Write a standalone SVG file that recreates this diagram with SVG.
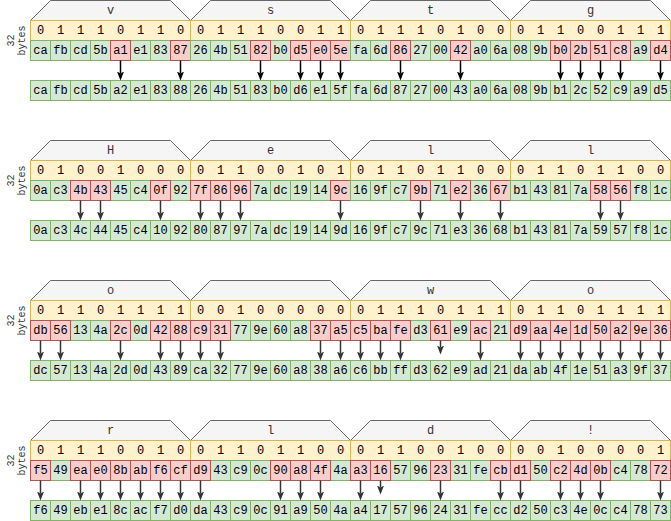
<svg xmlns="http://www.w3.org/2000/svg" width="671" height="521" viewBox="0 0 671 521">
<defs>
<style>
.hd{fill:#f5f5f5;stroke:#666666}
.bt{fill:#fff2cc;stroke:#d6b656}
.gr{fill:#d5e8d4;stroke:#82b366}
.dv{fill:none;stroke:#82b366}
.rd{fill:#f8cecc;stroke:#b85450}
text{font-family:"Liberation Mono","DejaVu Sans Mono",monospace;font-size:12px;text-anchor:middle;dominant-baseline:central;fill:#000000}
.ht{fill:#333333}
.lb{font-size:10px;fill:#333333}
.ar{stroke:#333333;stroke-width:1.5;fill:none;marker-end:url(#ah)}
.ar0{stroke:#000000;stroke-width:1.5;fill:none;marker-end:url(#ah0)}
</style>
<marker id="ah" markerUnits="userSpaceOnUse" markerWidth="10" markerHeight="9" refX="2" refY="4" orient="auto"><path d="M0,0.5 L9,4 L0,7.5 L2,4 Z" fill="#333333"/></marker>
<marker id="ah0" markerUnits="userSpaceOnUse" markerWidth="10" markerHeight="9" refX="2" refY="4" orient="auto"><path d="M0,0.5 L9,4 L0,7.5 L2,4 Z" fill="#000000"/></marker>
<path id="dv" d="M20 0v20M40 0v20M60 0v20M80 0v20M100 0v20M120 0v20M140 0v20"/>
<path id="dvo" d="M20 0v20M40 0v20M60 0v20M80 0v20M100 0v20M120 0v20M140 0v20M160 0v20M180 0v20M200 0v20M220 0v20M240 0v20M260 0v20M280 0v20M300 0v20M320 0v20M340 0v20M360 0v20M380 0v20M400 0v20M420 0v20M440 0v20M460 0v20M480 0v20M500 0v20M520 0v20M540 0v20M560 0v20M580 0v20M600 0v20M620 0v20"/>
</defs>
<g transform="translate(0.5,0.5)">

<!-- ROW 1 -->
<g id="row1" transform="translate(0,0)">
<text class="lb" transform="translate(10.5,40) rotate(-90)">32</text>
<text class="lb" transform="translate(22,40) rotate(-90)">bytes</text>
<g id="r1-v">
<polygon class="hd" points="30,20 50,0 170,0 190,20"/>
<text class="ht" x="110" y="10">v</text>
<rect class="bt" x="30" y="20" width="160" height="20"/>
<text x="40 60 80 100 120 140 160 180" y="30">01110110</text>
<rect class="gr" x="30" y="40" width="160" height="20"/>
<use href="#dv" x="30" y="40" class="dv"/>
<rect class="rd" x="110" y="40" width="20" height="20"/>
<rect class="rd" x="170" y="40" width="20" height="20"/>
<text y="50"><tspan x="40">ca</tspan><tspan x="60">fb</tspan><tspan x="80">cd</tspan><tspan x="100">5b</tspan><tspan x="120">a1</tspan><tspan x="140">e1</tspan><tspan x="160">83</tspan><tspan x="180">87</tspan></text>
</g>
<g id="r1-s">
<polygon class="hd" points="190,20 210,0 330,0 350,20"/>
<text class="ht" x="270" y="10">s</text>
<rect class="bt" x="190" y="20" width="160" height="20"/>
<text x="200 220 240 260 280 300 320 340" y="30">01110011</text>
<rect class="gr" x="190" y="40" width="160" height="20"/>
<use href="#dv" x="190" y="40" class="dv"/>
<rect class="rd" x="250" y="40" width="20" height="20"/>
<rect class="rd" x="290" y="40" width="20" height="20"/>
<rect class="rd" x="310" y="40" width="20" height="20"/>
<rect class="rd" x="330" y="40" width="20" height="20"/>
<text y="50"><tspan x="200">26</tspan><tspan x="220">4b</tspan><tspan x="240">51</tspan><tspan x="260">82</tspan><tspan x="280">b0</tspan><tspan x="300">d5</tspan><tspan x="320">e0</tspan><tspan x="340">5e</tspan></text>
</g>
<g id="r1-t">
<polygon class="hd" points="350,20 370,0 490,0 510,20"/>
<text class="ht" x="430" y="10">t</text>
<rect class="bt" x="350" y="20" width="160" height="20"/>
<text x="360 380 400 420 440 460 480 500" y="30">01110100</text>
<rect class="gr" x="350" y="40" width="160" height="20"/>
<use href="#dv" x="350" y="40" class="dv"/>
<rect class="rd" x="390" y="40" width="20" height="20"/>
<rect class="rd" x="450" y="40" width="20" height="20"/>
<text y="50"><tspan x="360">fa</tspan><tspan x="380">6d</tspan><tspan x="400">86</tspan><tspan x="420">27</tspan><tspan x="440">00</tspan><tspan x="460">42</tspan><tspan x="480">a0</tspan><tspan x="500">6a</tspan></text>
</g>
<g id="r1-g">
<polygon class="hd" points="510,20 530,0 650,0 670,20"/>
<text class="ht" x="590" y="10">g</text>
<rect class="bt" x="510" y="20" width="160" height="20"/>
<text x="520 540 560 580 600 620 640 660" y="30">01100111</text>
<rect class="gr" x="510" y="40" width="160" height="20"/>
<use href="#dv" x="510" y="40" class="dv"/>
<rect class="rd" x="550" y="40" width="20" height="20"/>
<rect class="rd" x="570" y="40" width="20" height="20"/>
<rect class="rd" x="590" y="40" width="20" height="20"/>
<rect class="rd" x="610" y="40" width="20" height="20"/>
<rect class="rd" x="650" y="40" width="20" height="20"/>
<text y="50"><tspan x="520">08</tspan><tspan x="540">9b</tspan><tspan x="560">b0</tspan><tspan x="580">2b</tspan><tspan x="600">51</tspan><tspan x="620">c8</tspan><tspan x="640">a9</tspan><tspan x="660">d4</tspan></text>
</g>
<g id="r1-out">
<rect class="gr" x="30" y="80" width="640" height="20"/>
<use href="#dvo" x="30" y="80" class="dv"/>
<text y="90"><tspan x="40">ca</tspan><tspan x="60">fb</tspan><tspan x="80">cd</tspan><tspan x="100">5b</tspan><tspan x="120">a2</tspan><tspan x="140">e1</tspan><tspan x="160">83</tspan><tspan x="180">88</tspan><tspan x="200">26</tspan><tspan x="220">4b</tspan><tspan x="240">51</tspan><tspan x="260">83</tspan><tspan x="280">b0</tspan><tspan x="300">d6</tspan><tspan x="320">e1</tspan><tspan x="340">5f</tspan><tspan x="360">fa</tspan><tspan x="380">6d</tspan><tspan x="400">87</tspan><tspan x="420">27</tspan><tspan x="440">00</tspan><tspan x="460">43</tspan><tspan x="480">a0</tspan><tspan x="500">6a</tspan><tspan x="520">08</tspan><tspan x="540">9b</tspan><tspan x="560">b1</tspan><tspan x="580">2c</tspan><tspan x="600">52</tspan><tspan x="620">c9</tspan><tspan x="640">a9</tspan><tspan x="660">d5</tspan></text>
</g>
</g>

<!-- ROW 2 -->
<g id="row2" transform="translate(0,140)">
<text class="lb" transform="translate(10.5,40) rotate(-90)">32</text>
<text class="lb" transform="translate(22,40) rotate(-90)">bytes</text>
<g id="r2-H">
<polygon class="hd" points="30,20 50,0 170,0 190,20"/>
<text class="ht" x="110" y="10">H</text>
<rect class="bt" x="30" y="20" width="160" height="20"/>
<text x="40 60 80 100 120 140 160 180" y="30">01001000</text>
<rect class="gr" x="30" y="40" width="160" height="20"/>
<use href="#dv" x="30" y="40" class="dv"/>
<rect class="rd" x="70" y="40" width="20" height="20"/>
<rect class="rd" x="90" y="40" width="20" height="20"/>
<rect class="rd" x="150" y="40" width="20" height="20"/>
<text y="50"><tspan x="40">0a</tspan><tspan x="60">c3</tspan><tspan x="80">4b</tspan><tspan x="100">43</tspan><tspan x="120">45</tspan><tspan x="140">c4</tspan><tspan x="160">0f</tspan><tspan x="180">92</tspan></text>
</g>
<g id="r2-e">
<polygon class="hd" points="190,20 210,0 330,0 350,20"/>
<text class="ht" x="270" y="10">e</text>
<rect class="bt" x="190" y="20" width="160" height="20"/>
<text x="200 220 240 260 280 300 320 340" y="30">01100101</text>
<rect class="gr" x="190" y="40" width="160" height="20"/>
<use href="#dv" x="190" y="40" class="dv"/>
<rect class="rd" x="190" y="40" width="20" height="20"/>
<rect class="rd" x="210" y="40" width="20" height="20"/>
<rect class="rd" x="230" y="40" width="20" height="20"/>
<rect class="rd" x="330" y="40" width="20" height="20"/>
<text y="50"><tspan x="200">7f</tspan><tspan x="220">86</tspan><tspan x="240">96</tspan><tspan x="260">7a</tspan><tspan x="280">dc</tspan><tspan x="300">19</tspan><tspan x="320">14</tspan><tspan x="340">9c</tspan></text>
</g>
<g id="r2-l1">
<polygon class="hd" points="350,20 370,0 490,0 510,20"/>
<text class="ht" x="430" y="10">l</text>
<rect class="bt" x="350" y="20" width="160" height="20"/>
<text x="360 380 400 420 440 460 480 500" y="30">01101100</text>
<rect class="gr" x="350" y="40" width="160" height="20"/>
<use href="#dv" x="350" y="40" class="dv"/>
<rect class="rd" x="410" y="40" width="20" height="20"/>
<rect class="rd" x="450" y="40" width="20" height="20"/>
<rect class="rd" x="490" y="40" width="20" height="20"/>
<text y="50"><tspan x="360">16</tspan><tspan x="380">9f</tspan><tspan x="400">c7</tspan><tspan x="420">9b</tspan><tspan x="440">71</tspan><tspan x="460">e2</tspan><tspan x="480">36</tspan><tspan x="500">67</tspan></text>
</g>
<g id="r2-l2">
<polygon class="hd" points="510,20 530,0 650,0 670,20"/>
<text class="ht" x="590" y="10">l</text>
<rect class="bt" x="510" y="20" width="160" height="20"/>
<text x="520 540 560 580 600 620 640 660" y="30">01101100</text>
<rect class="gr" x="510" y="40" width="160" height="20"/>
<use href="#dv" x="510" y="40" class="dv"/>
<rect class="rd" x="590" y="40" width="20" height="20"/>
<rect class="rd" x="610" y="40" width="20" height="20"/>
<text y="50"><tspan x="520">b1</tspan><tspan x="540">43</tspan><tspan x="560">81</tspan><tspan x="580">7a</tspan><tspan x="600">58</tspan><tspan x="620">56</tspan><tspan x="640">f8</tspan><tspan x="660">1c</tspan></text>
</g>
<g id="r2-out">
<rect class="gr" x="30" y="80" width="640" height="20"/>
<use href="#dvo" x="30" y="80" class="dv"/>
<text y="90"><tspan x="40">0a</tspan><tspan x="60">c3</tspan><tspan x="80">4c</tspan><tspan x="100">44</tspan><tspan x="120">45</tspan><tspan x="140">c4</tspan><tspan x="160">10</tspan><tspan x="180">92</tspan><tspan x="200">80</tspan><tspan x="220">87</tspan><tspan x="240">97</tspan><tspan x="260">7a</tspan><tspan x="280">dc</tspan><tspan x="300">19</tspan><tspan x="320">14</tspan><tspan x="340">9d</tspan><tspan x="360">16</tspan><tspan x="380">9f</tspan><tspan x="400">c7</tspan><tspan x="420">9c</tspan><tspan x="440">71</tspan><tspan x="460">e3</tspan><tspan x="480">36</tspan><tspan x="500">68</tspan><tspan x="520">b1</tspan><tspan x="540">43</tspan><tspan x="560">81</tspan><tspan x="580">7a</tspan><tspan x="600">59</tspan><tspan x="620">57</tspan><tspan x="640">f8</tspan><tspan x="660">1c</tspan></text>
</g>
</g>

<!-- ROW 3 -->
<g id="row3" transform="translate(0,280)">
<text class="lb" transform="translate(10.5,40) rotate(-90)">32</text>
<text class="lb" transform="translate(22,40) rotate(-90)">bytes</text>
<g id="r3-o1">
<polygon class="hd" points="30,20 50,0 170,0 190,20"/>
<text class="ht" x="110" y="10">o</text>
<rect class="bt" x="30" y="20" width="160" height="20"/>
<text x="40 60 80 100 120 140 160 180" y="30">01101111</text>
<rect class="gr" x="30" y="40" width="160" height="20"/>
<use href="#dv" x="30" y="40" class="dv"/>
<rect class="rd" x="30" y="40" width="20" height="20"/>
<rect class="rd" x="50" y="40" width="20" height="20"/>
<rect class="rd" x="110" y="40" width="20" height="20"/>
<rect class="rd" x="150" y="40" width="20" height="20"/>
<rect class="rd" x="170" y="40" width="20" height="20"/>
<text y="50"><tspan x="40">db</tspan><tspan x="60">56</tspan><tspan x="80">13</tspan><tspan x="100">4a</tspan><tspan x="120">2c</tspan><tspan x="140">0d</tspan><tspan x="160">42</tspan><tspan x="180">88</tspan></text>
</g>
<g id="r3-sp">
<polygon class="hd" points="190,20 210,0 330,0 350,20"/>
<rect class="bt" x="190" y="20" width="160" height="20"/>
<text x="200 220 240 260 280 300 320 340" y="30">00100000</text>
<rect class="gr" x="190" y="40" width="160" height="20"/>
<use href="#dv" x="190" y="40" class="dv"/>
<rect class="rd" x="190" y="40" width="20" height="20"/>
<rect class="rd" x="210" y="40" width="20" height="20"/>
<rect class="rd" x="310" y="40" width="20" height="20"/>
<rect class="rd" x="330" y="40" width="20" height="20"/>
<text y="50"><tspan x="200">c9</tspan><tspan x="220">31</tspan><tspan x="240">77</tspan><tspan x="260">9e</tspan><tspan x="280">60</tspan><tspan x="300">a8</tspan><tspan x="320">37</tspan><tspan x="340">a5</tspan></text>
</g>
<g id="r3-w">
<polygon class="hd" points="350,20 370,0 490,0 510,20"/>
<text class="ht" x="430" y="10">w</text>
<rect class="bt" x="350" y="20" width="160" height="20"/>
<text x="360 380 400 420 440 460 480 500" y="30">01110111</text>
<rect class="gr" x="350" y="40" width="160" height="20"/>
<use href="#dv" x="350" y="40" class="dv"/>
<rect class="rd" x="350" y="40" width="20" height="20"/>
<rect class="rd" x="370" y="40" width="20" height="20"/>
<rect class="rd" x="390" y="40" width="20" height="20"/>
<rect class="rd" x="430" y="40" width="20" height="20"/>
<rect class="rd" x="470" y="40" width="20" height="20"/>
<text y="50"><tspan x="360">c5</tspan><tspan x="380">ba</tspan><tspan x="400">fe</tspan><tspan x="420">d3</tspan><tspan x="440">61</tspan><tspan x="460">e9</tspan><tspan x="480">ac</tspan><tspan x="500">21</tspan></text>
</g>
<g id="r3-o2">
<polygon class="hd" points="510,20 530,0 650,0 670,20"/>
<text class="ht" x="590" y="10">o</text>
<rect class="bt" x="510" y="20" width="160" height="20"/>
<text x="520 540 560 580 600 620 640 660" y="30">01101111</text>
<rect class="rd" x="510" y="40" width="20" height="20"/>
<rect class="rd" x="530" y="40" width="20" height="20"/>
<rect class="rd" x="550" y="40" width="20" height="20"/>
<rect class="rd" x="570" y="40" width="20" height="20"/>
<rect class="rd" x="590" y="40" width="20" height="20"/>
<rect class="rd" x="610" y="40" width="20" height="20"/>
<rect class="rd" x="630" y="40" width="20" height="20"/>
<rect class="rd" x="650" y="40" width="20" height="20"/>
<text y="50"><tspan x="520">d9</tspan><tspan x="540">aa</tspan><tspan x="560">4e</tspan><tspan x="580">1d</tspan><tspan x="600">50</tspan><tspan x="620">a2</tspan><tspan x="640">9e</tspan><tspan x="660">36</tspan></text>
</g>
<g id="r3-out">
<rect class="gr" x="30" y="80" width="640" height="20"/>
<use href="#dvo" x="30" y="80" class="dv"/>
<text y="90"><tspan x="40">dc</tspan><tspan x="60">57</tspan><tspan x="80">13</tspan><tspan x="100">4a</tspan><tspan x="120">2d</tspan><tspan x="140">0d</tspan><tspan x="160">43</tspan><tspan x="180">89</tspan><tspan x="200">ca</tspan><tspan x="220">32</tspan><tspan x="240">77</tspan><tspan x="260">9e</tspan><tspan x="280">60</tspan><tspan x="300">a8</tspan><tspan x="320">38</tspan><tspan x="340">a6</tspan><tspan x="360">c6</tspan><tspan x="380">bb</tspan><tspan x="400">ff</tspan><tspan x="420">d3</tspan><tspan x="440">62</tspan><tspan x="460">e9</tspan><tspan x="480">ad</tspan><tspan x="500">21</tspan><tspan x="520">da</tspan><tspan x="540">ab</tspan><tspan x="560">4f</tspan><tspan x="580">1e</tspan><tspan x="600">51</tspan><tspan x="620">a3</tspan><tspan x="640">9f</tspan><tspan x="660">37</tspan></text>
</g>
</g>

<!-- ROW 4 -->
<g id="row4" transform="translate(0,420)">
<text class="lb" transform="translate(10.5,40) rotate(-90)">32</text>
<text class="lb" transform="translate(22,40) rotate(-90)">bytes</text>
<g id="r4-r">
<polygon class="hd" points="30,20 50,0 170,0 190,20"/>
<text class="ht" x="110" y="10">r</text>
<rect class="bt" x="30" y="20" width="160" height="20"/>
<text x="40 60 80 100 120 140 160 180" y="30">01110010</text>
<rect class="gr" x="30" y="40" width="160" height="20"/>
<use href="#dv" x="30" y="40" class="dv"/>
<rect class="rd" x="30" y="40" width="20" height="20"/>
<rect class="rd" x="70" y="40" width="20" height="20"/>
<rect class="rd" x="90" y="40" width="20" height="20"/>
<rect class="rd" x="110" y="40" width="20" height="20"/>
<rect class="rd" x="130" y="40" width="20" height="20"/>
<rect class="rd" x="150" y="40" width="20" height="20"/>
<rect class="rd" x="170" y="40" width="20" height="20"/>
<text y="50"><tspan x="40">f5</tspan><tspan x="60">49</tspan><tspan x="80">ea</tspan><tspan x="100">e0</tspan><tspan x="120">8b</tspan><tspan x="140">ab</tspan><tspan x="160">f6</tspan><tspan x="180">cf</tspan></text>
</g>
<g id="r4-l">
<polygon class="hd" points="190,20 210,0 330,0 350,20"/>
<text class="ht" x="270" y="10">l</text>
<rect class="bt" x="190" y="20" width="160" height="20"/>
<text x="200 220 240 260 280 300 320 340" y="30">01101100</text>
<rect class="gr" x="190" y="40" width="160" height="20"/>
<use href="#dv" x="190" y="40" class="dv"/>
<rect class="rd" x="190" y="40" width="20" height="20"/>
<rect class="rd" x="270" y="40" width="20" height="20"/>
<rect class="rd" x="290" y="40" width="20" height="20"/>
<rect class="rd" x="310" y="40" width="20" height="20"/>
<text y="50"><tspan x="200">d9</tspan><tspan x="220">43</tspan><tspan x="240">c9</tspan><tspan x="260">0c</tspan><tspan x="280">90</tspan><tspan x="300">a8</tspan><tspan x="320">4f</tspan><tspan x="340">4a</tspan></text>
</g>
<g id="r4-d">
<polygon class="hd" points="350,20 370,0 490,0 510,20"/>
<text class="ht" x="430" y="10">d</text>
<rect class="bt" x="350" y="20" width="160" height="20"/>
<text x="360 380 400 420 440 460 480 500" y="30">01100100</text>
<rect class="gr" x="350" y="40" width="160" height="20"/>
<use href="#dv" x="350" y="40" class="dv"/>
<rect class="rd" x="350" y="40" width="20" height="20"/>
<rect class="rd" x="370" y="40" width="20" height="20"/>
<rect class="rd" x="430" y="40" width="20" height="20"/>
<rect class="rd" x="490" y="40" width="20" height="20"/>
<text y="50"><tspan x="360">a3</tspan><tspan x="380">16</tspan><tspan x="400">57</tspan><tspan x="420">96</tspan><tspan x="440">23</tspan><tspan x="460">31</tspan><tspan x="480">fe</tspan><tspan x="500">cb</tspan></text>
</g>
<g id="r4-ex">
<polygon class="hd" points="510,20 530,0 650,0 670,20"/>
<text class="ht" x="590" y="10">!</text>
<rect class="bt" x="510" y="20" width="160" height="20"/>
<text x="520 540 560 580 600 620 640 660" y="30">00100001</text>
<rect class="gr" x="510" y="40" width="160" height="20"/>
<use href="#dv" x="510" y="40" class="dv"/>
<rect class="rd" x="510" y="40" width="20" height="20"/>
<rect class="rd" x="550" y="40" width="20" height="20"/>
<rect class="rd" x="570" y="40" width="20" height="20"/>
<rect class="rd" x="590" y="40" width="20" height="20"/>
<rect class="rd" x="650" y="40" width="20" height="20"/>
<text y="50"><tspan x="520">d1</tspan><tspan x="540">50</tspan><tspan x="560">c2</tspan><tspan x="580">4d</tspan><tspan x="600">0b</tspan><tspan x="620">c4</tspan><tspan x="640">78</tspan><tspan x="660">72</tspan></text>
</g>
<g id="r4-out">
<rect class="gr" x="30" y="80" width="640" height="20"/>
<use href="#dvo" x="30" y="80" class="dv"/>
<text y="90"><tspan x="40">f6</tspan><tspan x="60">49</tspan><tspan x="80">eb</tspan><tspan x="100">e1</tspan><tspan x="120">8c</tspan><tspan x="140">ac</tspan><tspan x="160">f7</tspan><tspan x="180">d0</tspan><tspan x="200">da</tspan><tspan x="220">43</tspan><tspan x="240">c9</tspan><tspan x="260">0c</tspan><tspan x="280">91</tspan><tspan x="300">a9</tspan><tspan x="320">50</tspan><tspan x="340">4a</tspan><tspan x="360">a4</tspan><tspan x="380">17</tspan><tspan x="400">57</tspan><tspan x="420">96</tspan><tspan x="440">24</tspan><tspan x="460">31</tspan><tspan x="480">fe</tspan><tspan x="500">cc</tspan><tspan x="520">d2</tspan><tspan x="540">50</tspan><tspan x="560">c3</tspan><tspan x="580">4e</tspan><tspan x="600">0c</tspan><tspan x="620">c4</tspan><tspan x="640">78</tspan><tspan x="660">73</tspan></text>
</g>
</g>

<!-- CONNECTORS -->
<g id="connectors">
<g class="ar0">
<path d="M120 60V73"/><path d="M180 60V73"/><path d="M260 60V73"/><path d="M300 60V73"/><path d="M320 60V73"/><path d="M340 60V73"/><path d="M400 60V73"/><path d="M460 60V73"/><path d="M560 60V73"/><path d="M580 60V73"/><path d="M600 60V73"/><path d="M620 60V73"/><path d="M660 60V73"/>
</g>
<g class="ar" transform="translate(0,140)">
<path d="M80 60V73"/><path d="M100 60V73"/><path d="M160 60V73"/><path d="M200 60V73"/><path d="M220 60V73"/><path d="M240 60V73"/><path d="M340 60V73"/><path d="M420 60V73"/><path d="M460 60V73"/><path d="M500 60V73"/><path d="M600 60V73"/><path d="M620 60V73"/>
</g>
<g class="ar" transform="translate(0,280)">
<path d="M40 60V73"/><path d="M60 60V73"/><path d="M120 60V73"/><path d="M160 60V73"/><path d="M180 60V73"/><path d="M200 60V73"/><path d="M220 60V73"/><path d="M320 60V73"/><path d="M340 60V73"/><path d="M360 60V73"/><path d="M380 60V73"/><path d="M400 60V73"/><path d="M440 60V67"/><path d="M480 60V73"/><path d="M520 60V73"/><path d="M540 60V73"/><path d="M560 60V73"/><path d="M580 60V73"/><path d="M600 60V73"/><path d="M620 60V73"/><path d="M640 60V73"/><path d="M660 60V73"/>
</g>
<g class="ar" transform="translate(0,420)">
<path d="M40 60V73"/><path d="M80 60V73"/><path d="M100 60V73"/><path d="M120 60V73"/><path d="M140 60V73"/><path d="M160 60V73"/><path d="M180 60V73"/><path d="M200 60V73"/><path d="M280 60V73"/><path d="M300 60V73"/><path d="M320 60V73"/><path d="M360 60V73"/><path d="M380 60V67"/><path d="M440 60V73"/><path d="M500 60V73"/><path d="M520 60V73"/><path d="M560 60V73"/><path d="M580 60V73"/><path d="M600 60V73"/><path d="M660 60V73"/>
</g>
</g>
</g>
</svg>
